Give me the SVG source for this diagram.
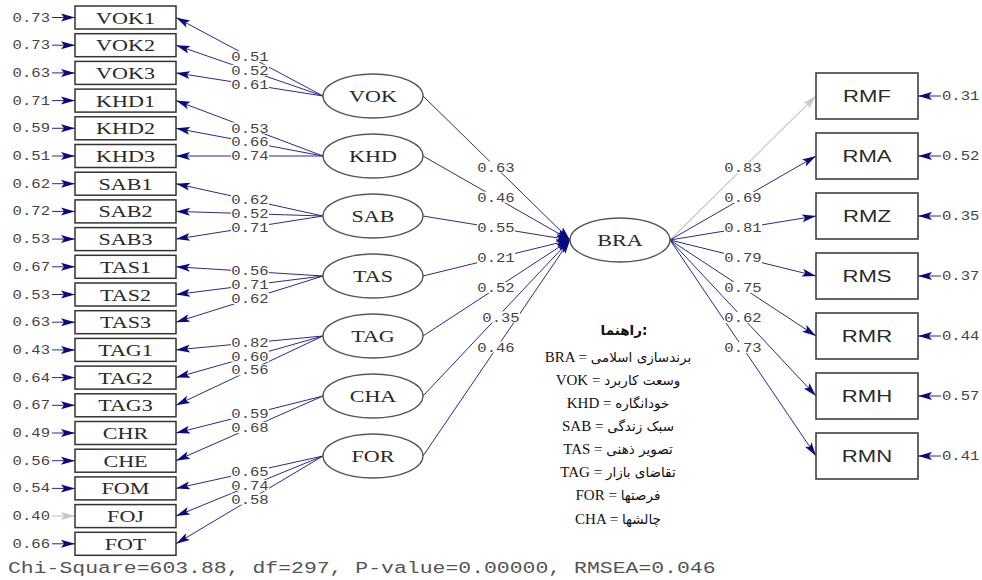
<svg xmlns="http://www.w3.org/2000/svg" width="982" height="580" viewBox="0 0 982 580">
<style>
.bx{fill:#fff;stroke:#333;stroke-width:1.5}
.el{fill:#fff;stroke:#555;stroke-width:1.3}
.tb{font-family:"Liberation Serif","Times New Roman",serif;font-size:17px;fill:#2a2a2a;text-anchor:middle}
.ta{font-family:"Liberation Sans",Arial,sans-serif;font-size:17px;fill:#2a2a2a;text-anchor:middle}
.n{font-family:"Liberation Mono","Courier New",monospace;font-size:12px;fill:#444}
.nm{text-anchor:middle}
.ne{text-anchor:end}
.bg{fill:#fff}
.c{stroke:#2a2a8c;stroke-width:1;fill:none;marker-end:url(#ah)}
.g{stroke:#c8c8c8;stroke-width:1.2;fill:none;marker-end:url(#ag)}
.lg{font-family:"Liberation Serif","Times New Roman","DejaVu Sans",serif;font-size:15px;fill:#111;text-anchor:middle}
.fa{font-family:"DejaVu Sans","Liberation Serif",sans-serif;font-size:13.5px}
.chi{font-family:"Liberation Mono","Courier New",monospace;font-size:16.5px;fill:#555}
</style>
<defs>
<marker id="ah" markerUnits="userSpaceOnUse" markerWidth="14" markerHeight="9" refX="14" refY="4.5" orient="auto"><path d="M0,0.5 L14,4.5 L0,8.5 L3,4.5 z" fill="#0a0a80"/></marker>
<marker id="ag" markerUnits="userSpaceOnUse" markerWidth="14" markerHeight="9" refX="14" refY="4.5" orient="auto"><path d="M0,0.5 L14,4.5 L0,8.5 L3,4.5 z" fill="#c8c8c8"/></marker>
</defs>

<g id="connectors">
<path class="c" d="M52,17.5H75"/><path class="c" d="M52,45.2H75"/><path class="c" d="M52,72.9H75"/>
<path class="c" d="M52,100.6H75"/><path class="c" d="M52,128.3H75"/><path class="c" d="M52,156H75"/>
<path class="c" d="M52,183.7H75"/><path class="c" d="M52,211.4H75"/><path class="c" d="M52,239.1H75"/>
<path class="c" d="M52,266.8H75"/><path class="c" d="M52,294.5H75"/><path class="c" d="M52,322.2H75"/>
<path class="c" d="M52,349.9H75"/><path class="c" d="M52,377.6H75"/><path class="c" d="M52,405.3H75"/>
<path class="c" d="M52,433H75"/><path class="c" d="M52,460.7H75"/><path class="c" d="M52,488.4H75"/>
<path class="g" d="M52,516.1H75"/><path class="c" d="M52,543.8H75"/>
<path class="c" d="M323,96L176,17.5"/><path class="c" d="M323,96L176,45.2"/><path class="c" d="M323,96L176,72.9"/>
<path class="c" d="M323,156L176,100.6"/><path class="c" d="M323,156L176,128.3"/><path class="c" d="M323,156L176,156"/>
<path class="c" d="M323,216L176,183.7"/><path class="c" d="M323,216L176,211.4"/><path class="c" d="M323,216L176,239.1"/>
<path class="c" d="M323,276L176,266.8"/><path class="c" d="M323,276L176,294.5"/><path class="c" d="M323,276L176,322.2"/>
<path class="c" d="M323,336L176,349.9"/><path class="c" d="M323,336L176,377.6"/><path class="c" d="M323,336L176,405.3"/>
<path class="c" d="M323,396L176,433"/><path class="c" d="M323,396L176,460.7"/>
<path class="c" d="M323,456L176,488.4"/><path class="c" d="M323,456L176,516.1"/><path class="c" d="M323,456L176,543.8"/>
<path class="c" d="M423,96L570,240"/><path class="c" d="M423,156L570,240"/><path class="c" d="M423,216L570,240"/>
<path class="c" d="M423,276L570,240"/><path class="c" d="M423,336L570,240"/><path class="c" d="M423,396L570,240"/>
<path class="c" d="M423,456L570,240"/>
<path class="g" d="M670,240L816,96"/><path class="c" d="M670,240L816,156"/><path class="c" d="M670,240L816,216"/>
<path class="c" d="M670,240L816,276"/><path class="c" d="M670,240L816,336"/><path class="c" d="M670,240L816,396"/>
<path class="c" d="M670,240L816,456"/>
<path class="c" d="M941,96H918"/><path class="c" d="M941,156H918"/><path class="c" d="M941,216H918"/>
<path class="c" d="M941,276H918"/><path class="c" d="M941,336H918"/><path class="c" d="M941,396H918"/>
<path class="c" d="M941,456H918"/>
</g>

<g id="left-error-values">
<text class="n ne" transform="translate(50,21.5) scale(1.3,1)">0.73</text>
<text class="n ne" transform="translate(50,49.2) scale(1.3,1)">0.73</text>
<text class="n ne" transform="translate(50,76.9) scale(1.3,1)">0.63</text>
<text class="n ne" transform="translate(50,104.6) scale(1.3,1)">0.71</text>
<text class="n ne" transform="translate(50,132.3) scale(1.3,1)">0.59</text>
<text class="n ne" transform="translate(50,160) scale(1.3,1)">0.51</text>
<text class="n ne" transform="translate(50,187.7) scale(1.3,1)">0.62</text>
<text class="n ne" transform="translate(50,215.4) scale(1.3,1)">0.72</text>
<text class="n ne" transform="translate(50,243.1) scale(1.3,1)">0.53</text>
<text class="n ne" transform="translate(50,270.8) scale(1.3,1)">0.67</text>
<text class="n ne" transform="translate(50,298.5) scale(1.3,1)">0.53</text>
<text class="n ne" transform="translate(50,326.2) scale(1.3,1)">0.63</text>
<text class="n ne" transform="translate(50,353.9) scale(1.3,1)">0.43</text>
<text class="n ne" transform="translate(50,381.6) scale(1.3,1)">0.64</text>
<text class="n ne" transform="translate(50,409.3) scale(1.3,1)">0.67</text>
<text class="n ne" transform="translate(50,437) scale(1.3,1)">0.49</text>
<text class="n ne" transform="translate(50,464.7) scale(1.3,1)">0.56</text>
<text class="n ne" transform="translate(50,492.4) scale(1.3,1)">0.54</text>
<text class="n ne" transform="translate(50,520.1) scale(1.3,1)">0.40</text>
<text class="n ne" transform="translate(50,547.8) scale(1.3,1)">0.66</text>
</g>

<g id="loading-labels">
<rect class="bg" x="231" y="51" width="38" height="11"/><text class="n nm" transform="translate(250,61) scale(1.3,1)">0.51</text>
<rect class="bg" x="231" y="64.8" width="38" height="11"/><text class="n nm" transform="translate(250,74.8) scale(1.3,1)">0.52</text>
<rect class="bg" x="231" y="78.5" width="38" height="11"/><text class="n nm" transform="translate(250,88.5) scale(1.3,1)">0.61</text>
<rect class="bg" x="231" y="122.5" width="38" height="11"/><text class="n nm" transform="translate(250,132.5) scale(1.3,1)">0.53</text>
<rect class="bg" x="231" y="136.2" width="38" height="11"/><text class="n nm" transform="translate(250,146.2) scale(1.3,1)">0.66</text>
<rect class="bg" x="231" y="150" width="38" height="11"/><text class="n nm" transform="translate(250,160) scale(1.3,1)">0.74</text>
<rect class="bg" x="231" y="194" width="38" height="11"/><text class="n nm" transform="translate(250,204) scale(1.3,1)">0.62</text>
<rect class="bg" x="231" y="207.7" width="38" height="11"/><text class="n nm" transform="translate(250,217.7) scale(1.3,1)">0.52</text>
<rect class="bg" x="231" y="221.5" width="38" height="11"/><text class="n nm" transform="translate(250,231.5) scale(1.3,1)">0.71</text>
<rect class="bg" x="231" y="265.4" width="38" height="11"/><text class="n nm" transform="translate(250,275.4) scale(1.3,1)">0.56</text>
<rect class="bg" x="231" y="279.2" width="38" height="11"/><text class="n nm" transform="translate(250,289.2) scale(1.3,1)">0.71</text>
<rect class="bg" x="231" y="292.9" width="38" height="11"/><text class="n nm" transform="translate(250,302.9) scale(1.3,1)">0.62</text>
<rect class="bg" x="231" y="336.9" width="38" height="11"/><text class="n nm" transform="translate(250,346.9) scale(1.3,1)">0.82</text>
<rect class="bg" x="231" y="350.7" width="38" height="11"/><text class="n nm" transform="translate(250,360.7) scale(1.3,1)">0.60</text>
<rect class="bg" x="231" y="364.4" width="38" height="11"/><text class="n nm" transform="translate(250,374.4) scale(1.3,1)">0.56</text>
<rect class="bg" x="231" y="408.4" width="38" height="11"/><text class="n nm" transform="translate(250,418.4) scale(1.3,1)">0.59</text>
<rect class="bg" x="231" y="422.1" width="38" height="11"/><text class="n nm" transform="translate(250,432.1) scale(1.3,1)">0.68</text>
<rect class="bg" x="231" y="466.1" width="38" height="11"/><text class="n nm" transform="translate(250,476.1) scale(1.3,1)">0.65</text>
<rect class="bg" x="231" y="479.8" width="38" height="11"/><text class="n nm" transform="translate(250,489.8) scale(1.3,1)">0.74</text>
<rect class="bg" x="231" y="493.6" width="38" height="11"/><text class="n nm" transform="translate(250,503.6) scale(1.3,1)">0.58</text>
<rect class="bg" x="477" y="161.5" width="38" height="11"/><text class="n nm" transform="translate(496,171.5) scale(1.3,1)">0.63</text>
<rect class="bg" x="477" y="191.7" width="38" height="11"/><text class="n nm" transform="translate(496,201.7) scale(1.3,1)">0.46</text>
<rect class="bg" x="477" y="222" width="38" height="11"/><text class="n nm" transform="translate(496,232) scale(1.3,1)">0.55</text>
<rect class="bg" x="477" y="252" width="38" height="11"/><text class="n nm" transform="translate(496,262) scale(1.3,1)">0.21</text>
<rect class="bg" x="477" y="282" width="38" height="11"/><text class="n nm" transform="translate(496,292) scale(1.3,1)">0.52</text>
<rect class="bg" x="482" y="311.5" width="38" height="11"/><text class="n nm" transform="translate(501,321.5) scale(1.3,1)">0.35</text>
<rect class="bg" x="477" y="341.5" width="38" height="11"/><text class="n nm" transform="translate(496,351.5) scale(1.3,1)">0.46</text>
<rect class="bg" x="724" y="162" width="38" height="11"/><text class="n nm" transform="translate(743,172) scale(1.3,1)">0.83</text>
<rect class="bg" x="724" y="192" width="38" height="11"/><text class="n nm" transform="translate(743,202) scale(1.3,1)">0.69</text>
<rect class="bg" x="724" y="222" width="38" height="11"/><text class="n nm" transform="translate(743,232) scale(1.3,1)">0.81</text>
<rect class="bg" x="724" y="252" width="38" height="11"/><text class="n nm" transform="translate(743,262) scale(1.3,1)">0.79</text>
<rect class="bg" x="724" y="282" width="38" height="11"/><text class="n nm" transform="translate(743,292) scale(1.3,1)">0.75</text>
<rect class="bg" x="724" y="312" width="38" height="11"/><text class="n nm" transform="translate(743,322) scale(1.3,1)">0.62</text>
<rect class="bg" x="724" y="342" width="38" height="11"/><text class="n nm" transform="translate(743,352) scale(1.3,1)">0.73</text>
</g>

<g id="right-error-values">
<text class="n" transform="translate(942,100) scale(1.3,1)">0.31</text>
<text class="n" transform="translate(942,160) scale(1.3,1)">0.52</text>
<text class="n" transform="translate(942,220) scale(1.3,1)">0.35</text>
<text class="n" transform="translate(942,280) scale(1.3,1)">0.37</text>
<text class="n" transform="translate(942,340) scale(1.3,1)">0.44</text>
<text class="n" transform="translate(942,400) scale(1.3,1)">0.57</text>
<text class="n" transform="translate(942,460) scale(1.3,1)">0.41</text>
</g>

<g id="VOK1"><rect class="bx" x="75" y="6" width="101" height="23"/><text class="tb" transform="translate(125.5,23.5) scale(1.3,1)">VOK1</text></g>
<g id="VOK2"><rect class="bx" x="75" y="33.7" width="101" height="23"/><text class="tb" transform="translate(125.5,51.2) scale(1.3,1)">VOK2</text></g>
<g id="VOK3"><rect class="bx" x="75" y="61.4" width="101" height="23"/><text class="tb" transform="translate(125.5,78.9) scale(1.3,1)">VOK3</text></g>
<g id="KHD1"><rect class="bx" x="75" y="89.1" width="101" height="23"/><text class="tb" transform="translate(125.5,106.6) scale(1.3,1)">KHD1</text></g>
<g id="KHD2"><rect class="bx" x="75" y="116.8" width="101" height="23"/><text class="tb" transform="translate(125.5,134.3) scale(1.3,1)">KHD2</text></g>
<g id="KHD3"><rect class="bx" x="75" y="144.5" width="101" height="23"/><text class="tb" transform="translate(125.5,162) scale(1.3,1)">KHD3</text></g>
<g id="SAB1"><rect class="bx" x="75" y="172.2" width="101" height="23"/><text class="tb" transform="translate(125.5,189.7) scale(1.3,1)">SAB1</text></g>
<g id="SAB2"><rect class="bx" x="75" y="199.9" width="101" height="23"/><text class="tb" transform="translate(125.5,217.4) scale(1.3,1)">SAB2</text></g>
<g id="SAB3"><rect class="bx" x="75" y="227.6" width="101" height="23"/><text class="tb" transform="translate(125.5,245.1) scale(1.3,1)">SAB3</text></g>
<g id="TAS1"><rect class="bx" x="75" y="255.3" width="101" height="23"/><text class="tb" transform="translate(125.5,272.8) scale(1.3,1)">TAS1</text></g>
<g id="TAS2"><rect class="bx" x="75" y="283" width="101" height="23"/><text class="tb" transform="translate(125.5,300.5) scale(1.3,1)">TAS2</text></g>
<g id="TAS3"><rect class="bx" x="75" y="310.7" width="101" height="23"/><text class="tb" transform="translate(125.5,328.2) scale(1.3,1)">TAS3</text></g>
<g id="TAG1"><rect class="bx" x="75" y="338.4" width="101" height="23"/><text class="tb" transform="translate(125.5,355.9) scale(1.3,1)">TAG1</text></g>
<g id="TAG2"><rect class="bx" x="75" y="366.1" width="101" height="23"/><text class="tb" transform="translate(125.5,383.6) scale(1.3,1)">TAG2</text></g>
<g id="TAG3"><rect class="bx" x="75" y="393.8" width="101" height="23"/><text class="tb" transform="translate(125.5,411.3) scale(1.3,1)">TAG3</text></g>
<g id="CHR"><rect class="bx" x="75" y="421.5" width="101" height="23"/><text class="tb" transform="translate(125.5,439) scale(1.3,1)">CHR</text></g>
<g id="CHE"><rect class="bx" x="75" y="449.2" width="101" height="23"/><text class="tb" transform="translate(125.5,466.7) scale(1.3,1)">CHE</text></g>
<g id="FOM"><rect class="bx" x="75" y="476.9" width="101" height="23"/><text class="tb" transform="translate(125.5,494.4) scale(1.3,1)">FOM</text></g>
<g id="FOJ"><rect class="bx" x="75" y="504.6" width="101" height="23"/><text class="tb" transform="translate(125.5,522.1) scale(1.3,1)">FOJ</text></g>
<g id="FOT"><rect class="bx" x="75" y="532.3" width="101" height="23"/><text class="tb" transform="translate(125.5,549.8) scale(1.3,1)">FOT</text></g>

<g id="VOK"><ellipse class="el" cx="373" cy="96" rx="50" ry="22"/><text class="tb" transform="translate(373,102) scale(1.3,1)">VOK</text></g>
<g id="KHD"><ellipse class="el" cx="373" cy="156" rx="50" ry="22"/><text class="tb" transform="translate(373,162) scale(1.3,1)">KHD</text></g>
<g id="SAB"><ellipse class="el" cx="373" cy="216" rx="50" ry="22"/><text class="tb" transform="translate(373,222) scale(1.3,1)">SAB</text></g>
<g id="TAS"><ellipse class="el" cx="373" cy="276" rx="50" ry="22"/><text class="tb" transform="translate(373,282) scale(1.3,1)">TAS</text></g>
<g id="TAG"><ellipse class="el" cx="373" cy="336" rx="50" ry="22"/><text class="tb" transform="translate(373,342) scale(1.3,1)">TAG</text></g>
<g id="CHA"><ellipse class="el" cx="373" cy="396" rx="50" ry="22"/><text class="tb" transform="translate(373,402) scale(1.3,1)">CHA</text></g>
<g id="FOR"><ellipse class="el" cx="373" cy="456" rx="50" ry="22"/><text class="tb" transform="translate(373,462) scale(1.3,1)">FOR</text></g>

<g id="BRA"><ellipse class="el" cx="620" cy="240" rx="50" ry="22"/><text class="tb" transform="translate(620,246) scale(1.3,1)">BRA</text></g>

<g id="RMF"><rect class="bx" x="816" y="73" width="102" height="46"/><text class="ta" transform="translate(867,102) scale(1.3,1)">RMF</text></g>
<g id="RMA"><rect class="bx" x="816" y="133" width="102" height="46"/><text class="ta" transform="translate(867,162) scale(1.3,1)">RMA</text></g>
<g id="RMZ"><rect class="bx" x="816" y="193" width="102" height="46"/><text class="ta" transform="translate(867,222) scale(1.3,1)">RMZ</text></g>
<g id="RMS"><rect class="bx" x="816" y="253" width="102" height="46"/><text class="ta" transform="translate(867,282) scale(1.3,1)">RMS</text></g>
<g id="RMR"><rect class="bx" x="816" y="313" width="102" height="46"/><text class="ta" transform="translate(867,342) scale(1.3,1)">RMR</text></g>
<g id="RMH"><rect class="bx" x="816" y="373" width="102" height="46"/><text class="ta" transform="translate(867,402) scale(1.3,1)">RMH</text></g>
<g id="RMN"><rect class="bx" x="816" y="433" width="102" height="46"/><text class="ta" transform="translate(867,462) scale(1.3,1)">RMN</text></g>

<g id="legend">
<text class="lg fa" font-weight="bold" x="624" y="335">راهنما:</text>
<text class="lg" x="618" y="362">BRA = <tspan class="fa">برندسازی اسلامی</tspan></text>
<text class="lg" x="618" y="385">VOK = <tspan class="fa">وسعت کاربرد</tspan></text>
<text class="lg" x="618" y="408">KHD = <tspan class="fa">خودانگاره</tspan></text>
<text class="lg" x="618" y="431">SAB = <tspan class="fa">سبک زندگی</tspan></text>
<text class="lg" x="618" y="454">TAS = <tspan class="fa">تصویر ذهنی</tspan></text>
<text class="lg" x="618" y="477">TAG = <tspan class="fa">تقاضای بازار</tspan></text>
<text class="lg" x="618" y="500">FOR = <tspan class="fa">فرصتها</tspan></text>
<text class="lg" x="618" y="524">CHA = <tspan class="fa">چالشها</tspan></text>
</g>

<text class="chi" transform="translate(8,573) scale(1.3,1)">Chi-Square=603.88, df=297, P-value=0.00000, RMSEA=0.046</text>
</svg>
